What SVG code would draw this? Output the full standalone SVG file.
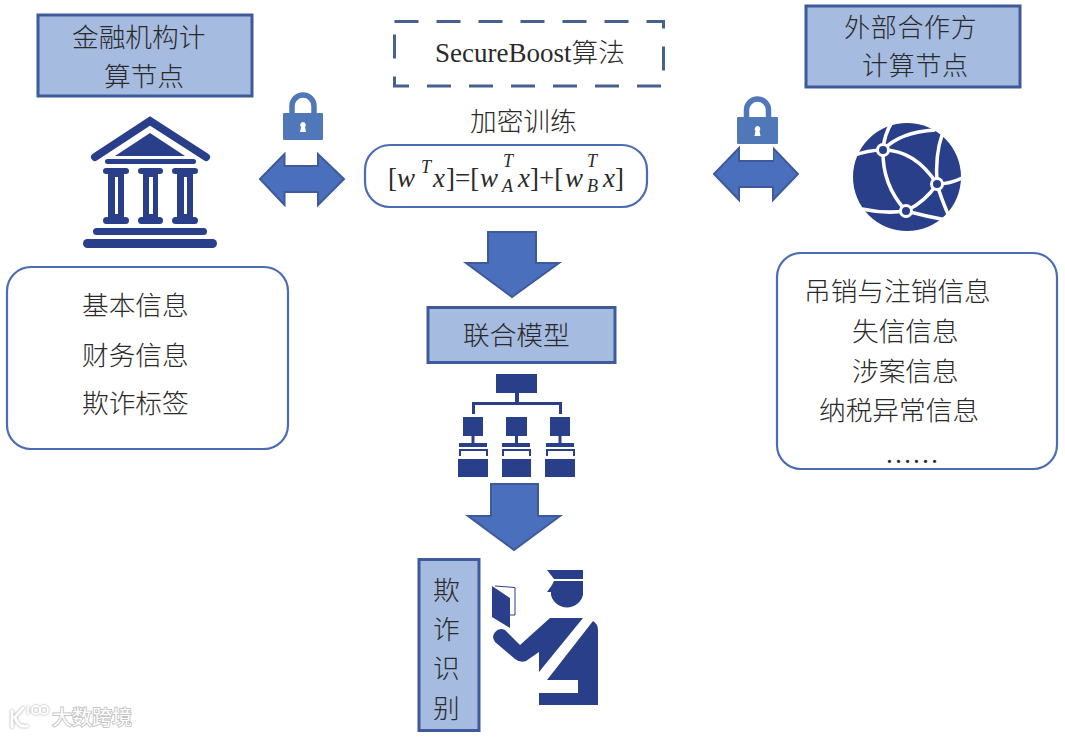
<svg xmlns="http://www.w3.org/2000/svg" width="1065" height="737" viewBox="0 0 1065 737">
<style>
.t{font-family:"Noto Sans CJK SC","Liberation Serif",serif;font-size:26.7px;fill:#2a2a2a;font-weight:300}
.t2{font-size:26px;letter-spacing:.7px}
.f{font-family:"Liberation Serif",serif;font-size:27px;fill:#2a2a2a}
.i{font-style:italic}
.s{font-size:18px}
.box{fill:#a6bbe0;stroke:#3f5a9a;stroke-width:3}
.rr{fill:#fff;stroke:#4a6cb3;stroke-width:2.2}
.arr{fill:#4a6fbd;stroke:#3f5a9a;stroke-width:2}
.ic{fill:#2a3f8a}
.lock{fill:#5078b8}
.wm{font-family:"Noto Sans CJK SC",sans-serif;font-size:20px;fill:#fff;stroke:#c4c4c4;stroke-width:1.8;paint-order:stroke}
.lg{fill:none;stroke:#fff;filter:drop-shadow(0 0 1.2px #999)}
</style>
<rect width="1065" height="737" fill="#fff"/>
<g id="connectors">
<path class="arr" d="M260,179 284.500,154V166H318V154L344,179 318,205V192H284.500V205Z"/>
<path class="arr" d="M714,174 739,148V161H773V148L798,174 773,200V187H739V200Z"/>
<path class="arr" d="M488,232H536V263H559L512,297 466,263H488Z"/>
<path class="arr" d="M491,484H538V516H560L514,550 468,516H491Z"/>
</g>
<g id="node-bank-title">
<rect class="box" x="38" y="15" width="214" height="81"/>
<text class="t" x="72" y="46.500">金融机构计</text>
<text class="t" x="104" y="86">算节点</text>
</g>
<g id="icon-bank" class="ic">
<path d="M95,157 150,121 206,157" fill="none" stroke="#2a3f8a" stroke-width="8" stroke-linecap="round" stroke-linejoin="miter"/>
<path d="M115,156 150,133 185,156Z"/>
<rect x="105" y="159" width="91" height="5" rx="2.500"/>
<rect x="103" y="168" width="26" height="6" rx="3"/><rect x="138" y="168" width="25" height="6" rx="3"/><rect x="172" y="168" width="26" height="6" rx="3"/>
<rect x="103" y="217" width="26" height="7" rx="3.500"/><rect x="138" y="217" width="25" height="7" rx="3.500"/><rect x="172" y="217" width="26" height="7" rx="3.500"/>
<path fill-rule="evenodd" d="M108,172H124V220H108ZM115,177V214H118V177Z"/>
<path fill-rule="evenodd" d="M143,172H158V220H143ZM149,177V214H153V177Z"/>
<path fill-rule="evenodd" d="M177,172H193V220H177ZM184,177V214H187V177Z"/>
<rect x="93" y="228" width="114" height="7" rx="3.500"/>
<rect x="83" y="239" width="134" height="9" rx="4.500"/>
</g>
<g id="lock-left">
<rect x="270" y="84" width="66" height="66" fill="#fff"/>
<path d="M292,115V106A11,11 0 0 1 314,106V115" fill="none" stroke="#5078b8" stroke-width="5.500"/>
<rect class="lock" x="283" y="113" width="40" height="27" rx="1"/>
<path d="M303,122a3,3 0 0 1 2,5l1,5h-6l1,-5a3,3 0 0 1 2,-5Z" fill="#fff"/>
</g>
<g id="lock-right">
<path d="M746.500,119V110A11,11 0 0 1 768.500,110V119" fill="none" stroke="#5078b8" stroke-width="5.500"/>
<rect class="lock" x="737" y="117" width="41" height="27" rx="1"/>
<path d="M757.500,126a3,3 0 0 1 2,5l1,5h-6l1,-5a3,3 0 0 1 2,-5Z" fill="#fff"/>
<rect x="740" y="144" width="33" height="16" fill="#fff"/>
</g>
<g id="node-algo">
<rect x="394.500" y="21.500" width="269" height="64.500" fill="none" stroke="#46618f" stroke-width="3" stroke-dasharray="24 18"/>
<text class="f" x="435" y="62">SecureBoost<tspan class="t">算法</tspan></text>
</g>
<g id="node-train">
<text class="t" x="470" y="130.500">加密训练</text>
<rect class="rr" x="365" y="145" width="282" height="62" rx="25"/>
<text class="f" x="388" y="187">[</text><text class="f i" x="397" y="187">w</text><text class="f i s" x="421" y="173">T</text><text class="f i" x="433" y="187">x</text><text class="f" x="446" y="187">]=[</text>
<text class="f i" x="480" y="187">w</text><text class="f i s" x="503" y="167">T</text><text class="f i s" x="502" y="192">A</text><text class="f i" x="518" y="187">x</text><text class="f" x="530" y="187">]+[</text>
<text class="f i" x="565" y="187">w</text><text class="f i s" x="587" y="167">T</text><text class="f i s" x="587" y="192">B</text><text class="f i" x="603" y="187">x</text><text class="f" x="615" y="187">]</text>
</g>
<g id="node-partner-title">
<rect class="box" x="806" y="6" width="214" height="81"/>
<text class="t t2" x="844" y="37">外部合作方</text>
<text class="t t2" x="862" y="74.700">计算节点</text>
</g>
<g id="icon-globe">
<circle class="ic" cx="907" cy="177" r="54"/>
<g fill="none" stroke="#fff" stroke-width="3.500">
<path d="M892,122Q884,135 883,150"/>
<path d="M852,156Q868,150 883,150"/>
<path d="M883,150Q915,150 937,184"/>
<path d="M883,150Q882,185 906,211"/>
<path d="M937,184Q925,202 906,211"/>
<path d="M937,184Q935,155 942,135"/>
<path d="M937,184Q950,184 962,178"/>
<path d="M937,184Q941,198 948,214"/>
<path d="M906,211Q885,214 862,209"/>
<path d="M906,211Q925,216 946,220"/>
<path d="M935,130Q900,132 883,150"/>
</g>
<g class="ic" stroke="#fff" stroke-width="3"><circle cx="883" cy="150" r="5.500"/><circle cx="937" cy="184" r="5.500"/><circle cx="906" cy="211" r="5.500"/></g>
</g>
<g id="node-bank-data">
<rect class="rr" x="7" y="267" width="281" height="182" rx="24"/>
<text class="t" x="82" y="315">基本信息</text>
<text class="t" x="82" y="365">财务信息</text>
<text class="t" x="82" y="413">欺诈标签</text>
</g>
<g id="node-partner-data">
<rect class="rr" x="777" y="253" width="280" height="216" rx="24"/>
<text class="t" x="804" y="301">吊销与注销信息</text>
<text class="t" x="852" y="341">失信信息</text>
<text class="t" x="852" y="381">涉案信息</text>
<text class="t" x="819" y="420">纳税异常信息</text>
<text class="f" x="885" y="463">……</text>
</g>
<g id="node-model">
<rect class="box" x="428" y="307.500" width="187" height="55"/>
<text class="t" x="463" y="345">联合模型</text>
</g>
<g id="icon-tree" class="ic">
<rect x="496" y="374" width="41" height="19"/>
<path d="M515,393h4v9h43v12h-3v-9H475v9h-3v-12h43Z"/>
<g id="t1"><rect x="463" y="417" width="20" height="19"/><rect x="471.500" y="436" width="3" height="7"/><rect x="459" y="443" width="28" height="4"/><path d="M459,449h29v7h-2v-5H461v5h-2Z"/><rect x="458" y="459" width="30" height="18"/></g>
<g id="t2"><rect x="506" y="417" width="21" height="19"/><rect x="515" y="436" width="3" height="7"/><rect x="502" y="443" width="28" height="4"/><path d="M502,449h29v7h-2v-5H504v5h-2Z"/><rect x="502" y="459" width="29" height="18"/></g>
<g id="t3"><rect x="550" y="417" width="20" height="19"/><rect x="558.500" y="436" width="3" height="7"/><rect x="546" y="443" width="28" height="4"/><path d="M546,449h29v7h-2v-5H548v5h-2Z"/><rect x="545" y="459" width="30" height="18"/></g>
</g>
<g id="node-detect">
<rect class="box" x="419" y="559.500" width="60" height="171"/>
<text class="t" x="433" y="600">欺</text>
<text class="t" x="433" y="639">诈</text>
<text class="t" x="433" y="678">识</text>
<text class="t" x="433" y="718">别</text>
</g>
<g id="icon-officer" class="ic">
<path d="M547,570H583V579H554Z"/>
<path d="M554,581H583V595A16.500,16.500 0 0 1 551,595V592H547L552,585Z"/>
<path d="M495,586 515,587.500V615H510" fill="#fff" stroke="#2a3f8a" stroke-width="1"/>
<path d="M492,586 510,598V628L492,617Z"/>
<path d="M550,618H583L539,672V652L526,661Q520,663 515,659L495,642A8,8 0 0 1 505,630L520,645Z"/>
<path d="M593,621Q598,624 598,630V705H539V693H578V680H547Z"/>
</g>
<g id="watermark">
<path class="lg" d="M12,711V727M23,708L15,717Q18,728 27,726" stroke-width="3" stroke-linecap="round"/>
<path class="lg" d="M28,714V706M32,710a4,4 0 1 0 8,0a4,4 0 1 0 -8,0M40,710a4,4 0 1 0 8,0a4,4 0 1 0 -8,0" stroke-width="1.800"/>
<text class="wm" x="52" y="725">大数跨境</text>
</g>
</svg>
